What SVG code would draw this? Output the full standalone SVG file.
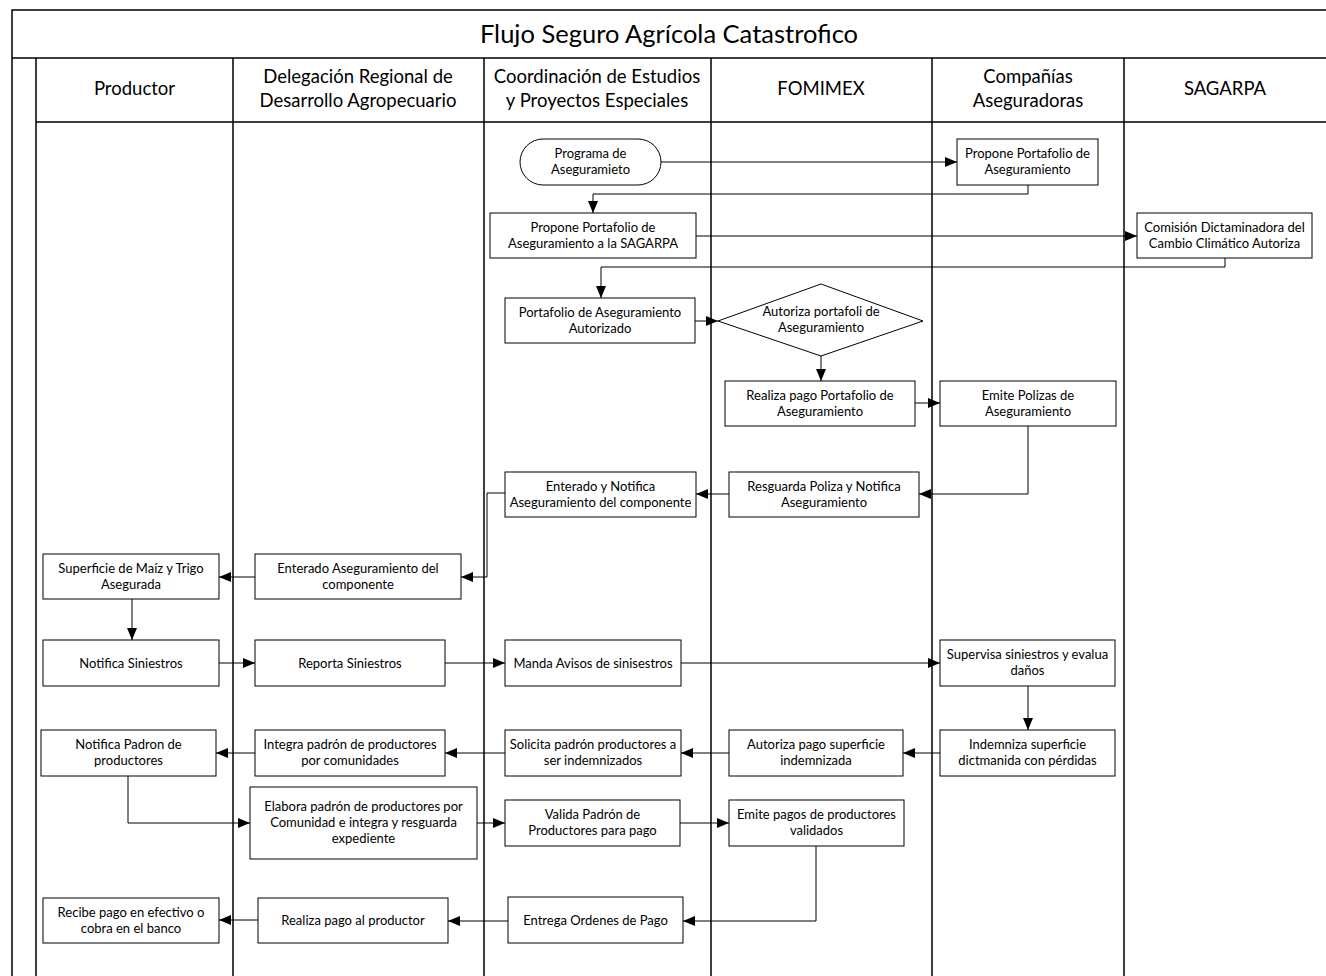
<svg xmlns="http://www.w3.org/2000/svg" width="1326" height="976" viewBox="0 0 1326 976">
<defs>
<marker id="ah" viewBox="0 0 12 10" refX="12" refY="5" markerWidth="12" markerHeight="10" markerUnits="userSpaceOnUse" orient="auto">
<path d="M0,0 L12,5 L0,10 z" fill="#000"/>
</marker>
<style>
.lane{stroke:#000;stroke-width:1.5;fill:none}
.box{fill:#fff;stroke:#000;stroke-width:1}
.t{font-family:Lato,"Liberation Sans",sans-serif;font-size:13px;fill:#000;text-anchor:middle}
.h{font-family:Lato,"Liberation Sans",sans-serif;font-size:18.5px;fill:#000;text-anchor:middle}
.title{font-family:Lato,"Liberation Sans",sans-serif;font-size:25.5px;fill:#000;text-anchor:middle}
.c{stroke:#000;stroke-width:1;fill:none;marker-end:url(#ah)}
</style>
</defs>
<rect width="1326" height="976" fill="#fff"/>
<g id="frame">
<path class="lane" d="M12,990 V10 H1330 M12,58 H1330 M36,58 V990 M36,122 H1330 M233,58 V990 M484,58 V990 M711,58 V990 M932,58 V990 M1124,58 V990"/>
<text class="title" x="669" y="43">Flujo Seguro Agrícola Catastrofico</text>
</g>
<g id="lane-headers">
<text class="h" x="134.5" y="95">Productor</text>
<text class="h" x="358" y="83">Delegación Regional de</text>
<text class="h" x="358" y="107">Desarrollo Agropecuario</text>
<text class="h" x="597" y="83">Coordinación de Estudios</text>
<text class="h" x="597" y="107">y Proyectos Especiales</text>
<text class="h" x="821" y="95">FOMIMEX</text>
<text class="h" x="1028" y="83">Compañías</text>
<text class="h" x="1028" y="107">Aseguradoras</text>
<text class="h" x="1225" y="95">SAGARPA</text>
</g>
<g id="connectors">
<path class="c" d="M661,162 H957"/>
<path class="c" d="M1028,185 V194 H593 V213"/>
<path class="c" d="M696,236 H1137"/>
<path class="c" d="M1225,258 V267 H601 V298"/>
<path class="c" d="M695,321 H718"/>
<path class="c" d="M821,356 V381"/>
<path class="c" d="M915,403 H940"/>
<path class="c" d="M1028,426 V494 H919"/>
<path class="c" d="M729,494 H696"/>
<path class="c" d="M505,493 H487 V577 H461"/>
<path class="c" d="M255,577 H219"/>
<path class="c" d="M132,599 V640"/>
<path class="c" d="M219,663 H255"/>
<path class="c" d="M445,663 H505"/>
<path class="c" d="M681,663 H940"/>
<path class="c" d="M1028,686 V730"/>
<path class="c" d="M940,753 H903"/>
<path class="c" d="M729,753 H681"/>
<path class="c" d="M505,753 H445"/>
<path class="c" d="M255,753 H216"/>
<path class="c" d="M128,776 V823 H250"/>
<path class="c" d="M477,823 H505"/>
<path class="c" d="M680,823 H729"/>
<path class="c" d="M816,846 V921 H683"/>
<path class="c" d="M508,921 H448"/>
<path class="c" d="M258,920 H219"/>
</g>
<g id="n1"><rect class="box" x="520" y="139" width="141" height="46" rx="23"/><text class="t" x="590.5" y="158">Programa de</text><text class="t" x="590.5" y="174">Aseguramieto</text></g>
<g id="n2"><rect class="box" x="957" y="139" width="141" height="46"/><text class="t" x="1027.5" y="158">Propone Portafolio de</text><text class="t" x="1027.5" y="174">Aseguramiento</text></g>
<g id="n3"><rect class="box" x="490" y="213" width="206" height="45"/><text class="t" x="593" y="231.5">Propone Portafolio de</text><text class="t" x="593" y="247.5">Aseguramiento a la SAGARPA</text></g>
<g id="n4"><rect class="box" x="1137" y="213" width="175" height="45"/><text class="t" x="1224.5" y="231.5">Comisión Dictaminadora del</text><text class="t" x="1224.5" y="247.5">Cambio Climático Autoriza</text></g>
<g id="n5"><rect class="box" x="505" y="298" width="190" height="45"/><text class="t" x="600" y="316.5">Portafolio de Aseguramiento</text><text class="t" x="600" y="332.5">Autorizado</text></g>
<g id="n6"><polygon class="box" points="718,321 821,284 923,321 821,356"/><text class="t" x="821" y="316">Autoriza portafoli de</text><text class="t" x="821" y="332">Aseguramiento</text></g>
<g id="n7"><rect class="box" x="725" y="381" width="190" height="45"/><text class="t" x="820" y="399.5">Realiza pago Portafolio de</text><text class="t" x="820" y="415.5">Aseguramiento</text></g>
<g id="n8"><rect class="box" x="940" y="381" width="176" height="45"/><text class="t" x="1028" y="399.5">Emite Polizas de</text><text class="t" x="1028" y="415.5">Aseguramiento</text></g>
<g id="n9"><rect class="box" x="729" y="472" width="190" height="45"/><text class="t" x="824" y="490.5">Resguarda Poliza y Notifica</text><text class="t" x="824" y="506.5">Aseguramiento</text></g>
<g id="n10"><rect class="box" x="505" y="472" width="191" height="45"/><text class="t" x="600.5" y="490.5">Enterado y Notifica</text><text class="t" x="600.5" y="506.5">Aseguramiento del componente</text></g>
<g id="n11"><rect class="box" x="255" y="554" width="206" height="45"/><text class="t" x="358" y="572.5">Enterado Aseguramiento del</text><text class="t" x="358" y="588.5">componente</text></g>
<g id="n12"><rect class="box" x="43" y="554" width="176" height="45"/><text class="t" x="131" y="572.5">Superficie de Maíz y Trigo</text><text class="t" x="131" y="588.5">Asegurada</text></g>
<g id="n13"><rect class="box" x="43" y="640" width="176" height="46"/><text class="t" x="131" y="667.5">Notifica Siniestros</text></g>
<g id="n14"><rect class="box" x="255" y="640" width="190" height="46"/><text class="t" x="350" y="667.5">Reporta Siniestros</text></g>
<g id="n15"><rect class="box" x="505" y="640" width="176" height="46"/><text class="t" x="593" y="667.5">Manda Avisos de sinisestros</text></g>
<g id="n16"><rect class="box" x="940" y="640" width="175" height="46"/><text class="t" x="1027.5" y="659">Supervisa siniestros y evalua</text><text class="t" x="1027.5" y="675">daños</text></g>
<g id="n17"><rect class="box" x="940" y="730" width="175" height="46"/><text class="t" x="1027.5" y="749">Indemniza superficie</text><text class="t" x="1027.5" y="765">dictmanida con pérdidas</text></g>
<g id="n18"><rect class="box" x="729" y="730" width="174" height="46"/><text class="t" x="816" y="749">Autoriza pago superficie</text><text class="t" x="816" y="765">indemnizada</text></g>
<g id="n19"><rect class="box" x="505" y="730" width="176" height="46"/><text class="t" x="593" y="749">Solicita padrón productores a</text><text class="t" x="593" y="765">ser indemnizados</text></g>
<g id="n20"><rect class="box" x="255" y="730" width="190" height="46"/><text class="t" x="350" y="749">Integra padrón de productores</text><text class="t" x="350" y="765">por comunidades</text></g>
<g id="n21"><rect class="box" x="41" y="730" width="175" height="46"/><text class="t" x="128.5" y="749">Notifica Padron de</text><text class="t" x="128.5" y="765">productores</text></g>
<g id="n22"><rect class="box" x="250" y="787" width="227" height="72"/><text class="t" x="363.5" y="811">Elabora padrón de productores por</text><text class="t" x="363.5" y="827">Comunidad e integra y resguarda</text><text class="t" x="363.5" y="843">expediente</text></g>
<g id="n23"><rect class="box" x="505" y="800" width="175" height="46"/><text class="t" x="592.5" y="819">Valida Padrón de</text><text class="t" x="592.5" y="835">Productores para pago</text></g>
<g id="n24"><rect class="box" x="729" y="800" width="175" height="46"/><text class="t" x="816.5" y="819">Emite pagos de productores</text><text class="t" x="816.5" y="835">validados</text></g>
<g id="n25"><rect class="box" x="508" y="897" width="175" height="46"/><text class="t" x="595.5" y="924.5">Entrega Ordenes de Pago</text></g>
<g id="n26"><rect class="box" x="258" y="898" width="190" height="45"/><text class="t" x="353" y="925">Realiza pago al productor</text></g>
<g id="n27"><rect class="box" x="43" y="898" width="176" height="45"/><text class="t" x="131" y="916.5">Recibe pago en efectivo o</text><text class="t" x="131" y="932.5">cobra en el banco</text></g>
</svg>
